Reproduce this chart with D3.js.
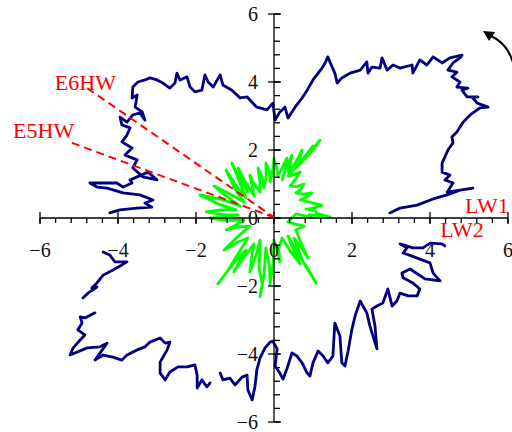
<!DOCTYPE html>
<html><head><meta charset="utf-8">
<script src="https://cdn.jsdelivr.net/npm/d3@7"></script>
<style>body{margin:0;background:#fff}svg{display:block}</style>
</head><body><svg id="c" width="512" height="432"></svg>
<script>
// ---- data (x, y in axis units) ----
const xTickValues = [-6, -4, -2, 0, 2, 4, 6];
const yTickValues = [-6, -4, -2, 0, 2, 4, 6];
const tickLabels = ["\u22126", "\u22124", "\u22122", "0", "2", "4", "6"];

const navyArc1 = [[2.97,0.15],[3.23,0.29],[3.67,0.38],[4.08,0.56],[4.44,0.68],[4.77,0.82],[5.10,0.88],[4.44,0.76],[4.59,1.03],[4.38,1.12],[4.51,1.26],[4.31,1.35],[4.31,1.62],[4.38,1.79],[4.46,2.00],[4.59,2.21],[4.56,2.38],[4.69,2.53],[4.77,2.68],[4.85,2.82],[5.03,3.03],[5.28,3.24],[5.49,3.26],[5.21,3.38],[5.10,3.53],[5.23,3.56],[4.95,3.56],[4.82,3.76],[4.97,3.82],[4.69,3.85],[4.77,4.00],[4.56,4.15],[4.69,4.29],[4.46,4.35],[4.59,4.56],[4.77,4.71],[4.82,4.79],[4.51,4.71],[4.31,4.56],[4.08,4.74],[3.92,4.50],[3.74,4.65],[3.56,4.26],[3.54,4.50],[3.23,4.41],[3.05,4.50],[2.90,4.35],[2.77,4.71],[2.72,4.41],[2.51,4.44],[2.41,4.26],[2.38,4.59],[2.21,4.35],[1.95,4.26],[1.74,4.12],[1.62,3.97],[1.56,4.26],[1.49,4.44],[1.38,4.74],[1.31,4.56],[1.23,4.41],[1.00,4.06],[0.85,3.76],[0.72,3.53],[0.54,3.26],[0.36,2.94],[0.28,3.26],[0.15,3.12],[0.03,2.88],[-0.03,3.38],[-0.18,3.18],[-0.36,3.24],[-0.44,3.26],[-0.69,3.56],[-0.87,3.53],[-0.95,3.62],[-1.08,3.76],[-1.31,3.91],[-1.38,4.21],[-1.56,3.85],[-1.69,4.00],[-1.77,4.21],[-1.85,3.76],[-2.03,3.71],[-2.15,3.85],[-2.23,4.15],[-2.41,4.06],[-2.49,4.26],[-2.54,3.97],[-2.67,3.82],[-2.85,3.97],[-3.00,4.06],[-3.18,4.12],[-3.31,4.06],[-3.49,4.00],[-3.62,3.85],[-3.64,3.53],[-3.51,3.62],[-3.56,3.26],[-3.38,3.12],[-3.31,2.88],[-3.44,3.09],[-3.62,3.03],[-3.77,2.82],[-3.95,2.97],[-3.90,2.74],[-3.69,2.65],[-3.77,2.44],[-3.90,2.24],[-3.64,2.06],[-3.82,1.85],[-3.51,1.71],[-3.62,1.47],[-3.36,1.21],[-3.00,1.12],[-3.23,1.35],[-3.51,1.21],[-3.69,1.12],[-3.64,1.03],[-3.87,0.91],[-4.03,1.03],[-4.33,1.03],[-4.72,1.03],[-4.54,0.91],[-4.28,0.88],[-3.87,0.74],[-3.44,0.68],[-3.10,0.53],[-3.31,0.44],[-3.13,0.32],[-3.51,0.29],[-3.95,0.24],[-4.21,0.15]];
const navyArc2 = [[-4.38,-1.00],[-4.21,-1.09],[-4.08,-1.29],[-3.77,-1.29],[-3.90,-1.38],[-4.13,-1.53],[-4.38,-1.68],[-4.54,-1.91],[-4.67,-2.06],[-4.54,-2.03],[-4.77,-2.21],[-4.90,-2.35]];
const navyArc3 = [[-4.59,-2.79],[-4.85,-2.94],[-4.97,-2.91],[-4.92,-3.09],[-5.03,-3.29],[-4.85,-3.44],[-4.97,-3.59],[-5.15,-3.82],[-5.23,-4.03],[-4.79,-3.82],[-4.46,-3.79],[-4.28,-3.68],[-4.59,-4.18],[-4.38,-4.03],[-4.13,-4.09],[-3.90,-4.18],[-3.77,-4.03],[-3.51,-3.88],[-3.31,-3.79],[-3.18,-3.65],[-2.92,-3.53],[-2.79,-3.68],[-2.67,-3.65],[-2.74,-3.88],[-2.92,-4.24],[-2.92,-4.56],[-2.79,-4.76],[-2.67,-4.53],[-2.46,-4.38],[-2.23,-4.38],[-2.03,-4.32],[-1.97,-4.62],[-1.97,-5.00],[-1.85,-4.76],[-1.72,-4.97],[-1.64,-4.85]];
const navyArc4 = [[-1.38,-4.56],[-1.31,-4.76],[-1.13,-4.71],[-1.00,-4.91],[-0.82,-4.68],[-0.69,-4.62],[-0.67,-5.06],[-0.56,-5.35],[-0.49,-4.97],[-0.44,-4.47],[-0.36,-4.12],[-0.23,-3.82],[-0.10,-3.65],[-0.03,-3.62],[0.08,-3.85],[0.03,-4.35],[0.15,-4.56],[0.23,-4.74],[0.33,-4.44],[0.46,-3.97],[0.59,-4.06],[0.72,-4.26],[0.85,-4.56],[0.92,-4.65],[1.00,-4.26],[1.13,-3.91],[1.26,-4.06],[1.38,-4.26],[1.51,-4.06],[1.56,-3.09],[1.69,-3.47],[1.74,-4.26],[1.82,-4.35],[1.90,-3.91],[2.00,-3.26],[2.08,-2.88],[2.21,-2.44],[2.38,-2.79],[2.46,-3.18],[2.64,-3.85],[2.59,-3.18],[2.51,-2.68],[2.64,-2.59],[2.79,-2.50],[2.92,-2.09],[3.03,-2.59],[3.15,-2.44],[3.23,-2.21],[3.44,-2.29],[3.67,-2.29],[3.74,-2.09],[3.56,-1.91],[3.31,-1.76],[3.28,-1.62],[3.49,-1.50],[3.87,-1.79],[4.26,-1.85],[4.08,-1.62],[4.00,-1.32],[3.74,-1.21],[3.54,-1.12],[3.31,-1.03],[3.41,-0.88],[3.23,-0.76],[3.56,-0.88],[3.82,-0.88],[4.00,-0.74],[4.31,-0.76],[4.38,-0.82]];

const greenStar = [[0.56,0.12],[0.95,0.02],[0.90,0.10],[1.44,0.03],[1.10,0.14],[1.05,0.22],[0.82,0.26],[1.00,0.28],[1.23,0.38],[0.95,0.45],[0.67,0.53],[0.85,0.62],[0.97,0.74],[0.75,0.70],[0.56,0.74],[0.70,0.86],[0.77,1.00],[0.55,0.92],[0.41,0.94],[0.58,1.18],[0.67,1.35],[0.45,1.25],[0.36,1.24],[0.62,1.55],[0.70,1.62],[0.87,1.85],[0.98,2.02],[1.18,2.29],[1.00,2.00],[0.90,1.88],[0.77,1.71],[0.88,1.90],[1.00,2.12],[0.78,1.80],[0.56,1.47],[0.66,1.72],[0.72,2.00],[0.55,1.62],[0.36,1.35],[0.42,1.60],[0.46,1.85],[0.30,1.45],[0.21,1.12],[0.30,1.48],[0.33,1.76],[0.18,1.40],[0.10,1.24],[0.06,1.50],[0.00,1.76],[-0.04,1.35],[-0.10,1.06],[-0.12,1.40],[-0.21,1.62],[-0.20,1.20],[-0.26,0.88],[-0.30,1.20],[-0.41,1.47],[-0.36,1.05],[-0.36,0.76],[-0.52,1.02],[-0.62,1.26],[-0.55,0.90],[-0.51,0.65],[-0.75,1.10],[-0.92,1.47],[-0.78,1.05],[-0.67,0.76],[-0.90,1.20],[-1.08,1.62],[-0.88,1.05],[-0.72,0.59],[-1.00,1.00],[-1.23,1.41],[-1.00,0.85],[-0.77,0.47],[-1.15,0.72],[-1.54,0.94],[-1.20,0.62],[-0.87,0.35],[-1.35,0.55],[-1.90,0.68],[-1.40,0.40],[-0.97,0.24],[-1.35,0.24],[-1.74,0.18],[-1.30,0.10],[-0.92,0.09],[-1.30,0.02],[-1.64,0.00],[-1.20,-0.08],[-0.77,-0.06],[-1.00,-0.22],[-1.23,-0.35],[-0.90,-0.26],[-0.62,-0.24],[-0.98,-0.60],[-1.28,-0.94],[-0.95,-0.72],[-0.67,-0.59],[-1.00,-1.20],[-1.20,-1.58],[-1.44,-1.94],[-1.05,-1.35],[-0.72,-0.94],[-0.90,-1.30],[-1.03,-1.59],[-0.75,-1.12],[-0.51,-0.76],[-0.58,-1.20],[-0.62,-1.59],[-0.46,-1.10],[-0.36,-0.65],[-0.38,-1.50],[-0.30,-1.95],[-0.36,-2.32],[-0.25,-1.60],[-0.21,-0.88],[-0.12,-1.40],[-0.10,-1.94],[-0.02,-1.30],[0.00,-0.65],[0.10,-1.00],[0.15,-1.29],[0.12,-0.90],[0.21,-0.59],[0.42,-0.98],[0.67,-1.35],[0.48,-0.90],[0.36,-0.53],[0.70,-1.20],[0.90,-1.55],[1.08,-1.91],[0.75,-1.30],[0.51,-0.59],[0.72,-0.90],[0.87,-1.18],[0.70,-0.75],[0.56,-0.35],[0.77,-0.24],[0.55,-0.18],[0.36,-0.12],[0.56,0.12]];

const refNames = ["E6HW", "E5HW"];
const refEnds = [[-4.79, 3.82], [-5.18, 2.21]];
const extraLabels = ["LW1", "LW2"];

// ---- drawing ----
const svg = d3.select("#c");
const x = d3.scaleLinear().domain([-6, 6]).range([40, 508]);
const y = d3.scaleLinear().domain([-6, 6]).range([422, 14]);
const line = d3.line().x(d => x(d[0])).y(d => y(d[1]));

[navyArc1, navyArc2, navyArc3, navyArc4].forEach(seg => {
  svg.append("path").attr("d", line(seg)).attr("fill", "none")
    .attr("stroke", "#000080").attr("stroke-width", 2.8)
    .attr("stroke-linejoin", "round").attr("stroke-linecap", "round");
});

svg.append("path").attr("d", line(greenStar)).attr("fill", "none")
  .attr("stroke", "#00ff00").attr("stroke-width", 2.8)
  .attr("stroke-linejoin", "round").attr("stroke-linecap", "round");

// axes
const ax = svg.append("g").attr("stroke", "#000").attr("stroke-width", 1.3);
ax.append("line").attr("x1", x(-6)).attr("x2", x(6)).attr("y1", y(0)).attr("y2", y(0));
ax.append("line").attr("x1", x(0)).attr("x2", x(0)).attr("y1", y(-6)).attr("y2", y(6));
const minor = d3.range(-6, 6.001, 0.4).map(v => Math.round(v * 10) / 10);
minor.forEach(v => {
  ax.append("line").attr("x1", x(v)).attr("x2", x(v)).attr("y1", y(0)).attr("y2", y(0) + 5);
  ax.append("line").attr("x1", x(0)).attr("x2", x(0) + 6).attr("y1", y(v)).attr("y2", y(v));
});
xTickValues.forEach(v => {
  ax.append("line").attr("x1", x(v)).attr("x2", x(v)).attr("y1", y(0) - 6).attr("y2", y(0) + 6);
});
yTickValues.forEach(v => {
  ax.append("line").attr("x1", x(0) - 6).attr("x2", x(0) + 7).attr("y1", y(v)).attr("y2", y(v));
});

const tf = "'Liberation Serif','Times New Roman',serif";
xTickValues.forEach((v, i) => {
  svg.append("text").attr("x", x(v)).attr("y", y(0) + 39).attr("text-anchor", "middle")
    .attr("font-family", tf).attr("font-size", 20).attr("fill", "#111").text(tickLabels[i]);
});
yTickValues.forEach((v, i) => {
  svg.append("text").attr("x", x(0) - 16).attr("y", y(v) + 7).attr("text-anchor", "end")
    .attr("font-family", tf).attr("font-size", 20).attr("fill", "#111").text(tickLabels[i]);
});

// reference dashed lines
refEnds.forEach(e => {
  svg.append("line").attr("x1", x(e[0])).attr("y1", y(e[1])).attr("x2", x(0)).attr("y2", y(0.02))
    .attr("stroke", "#ff0000").attr("stroke-width", 2).attr("stroke-dasharray", "8,5");
});
const red = svg.append("g").attr("fill", "#ff0000").attr("font-family", tf).attr("font-size", 22);
red.append("text").attr("x", x(-5.62)).attr("y", y(3.76)).text(refNames[0]);
red.append("text").attr("x", x(-6.69)).attr("y", y(2.35)).text(refNames[1]);
red.append("text").attr("x", x(4.90)).attr("y", y(0.15)).text(extraLabels[0]);
red.append("text").attr("x", x(4.26)).attr("y", y(-0.56)).text(extraLabels[1]);

// rotation arrow
svg.append("path")
  .attr("d", `M${x(6.12)},${y(4.6)} Q${x(5.97)},${y(5.15)} ${x(5.55)},${y(5.36)}`)
  .attr("fill", "none").attr("stroke", "#000").attr("stroke-width", 2);
const tip = [x(5.36), y(5.5)];
svg.append("path")
  .attr("d", `M${tip[0]},${tip[1]} L${tip[0] + 12},${tip[1] + 1} L${tip[0] + 6},${tip[1] + 10} Z`)
  .attr("fill", "#000");
</script></body></html>
